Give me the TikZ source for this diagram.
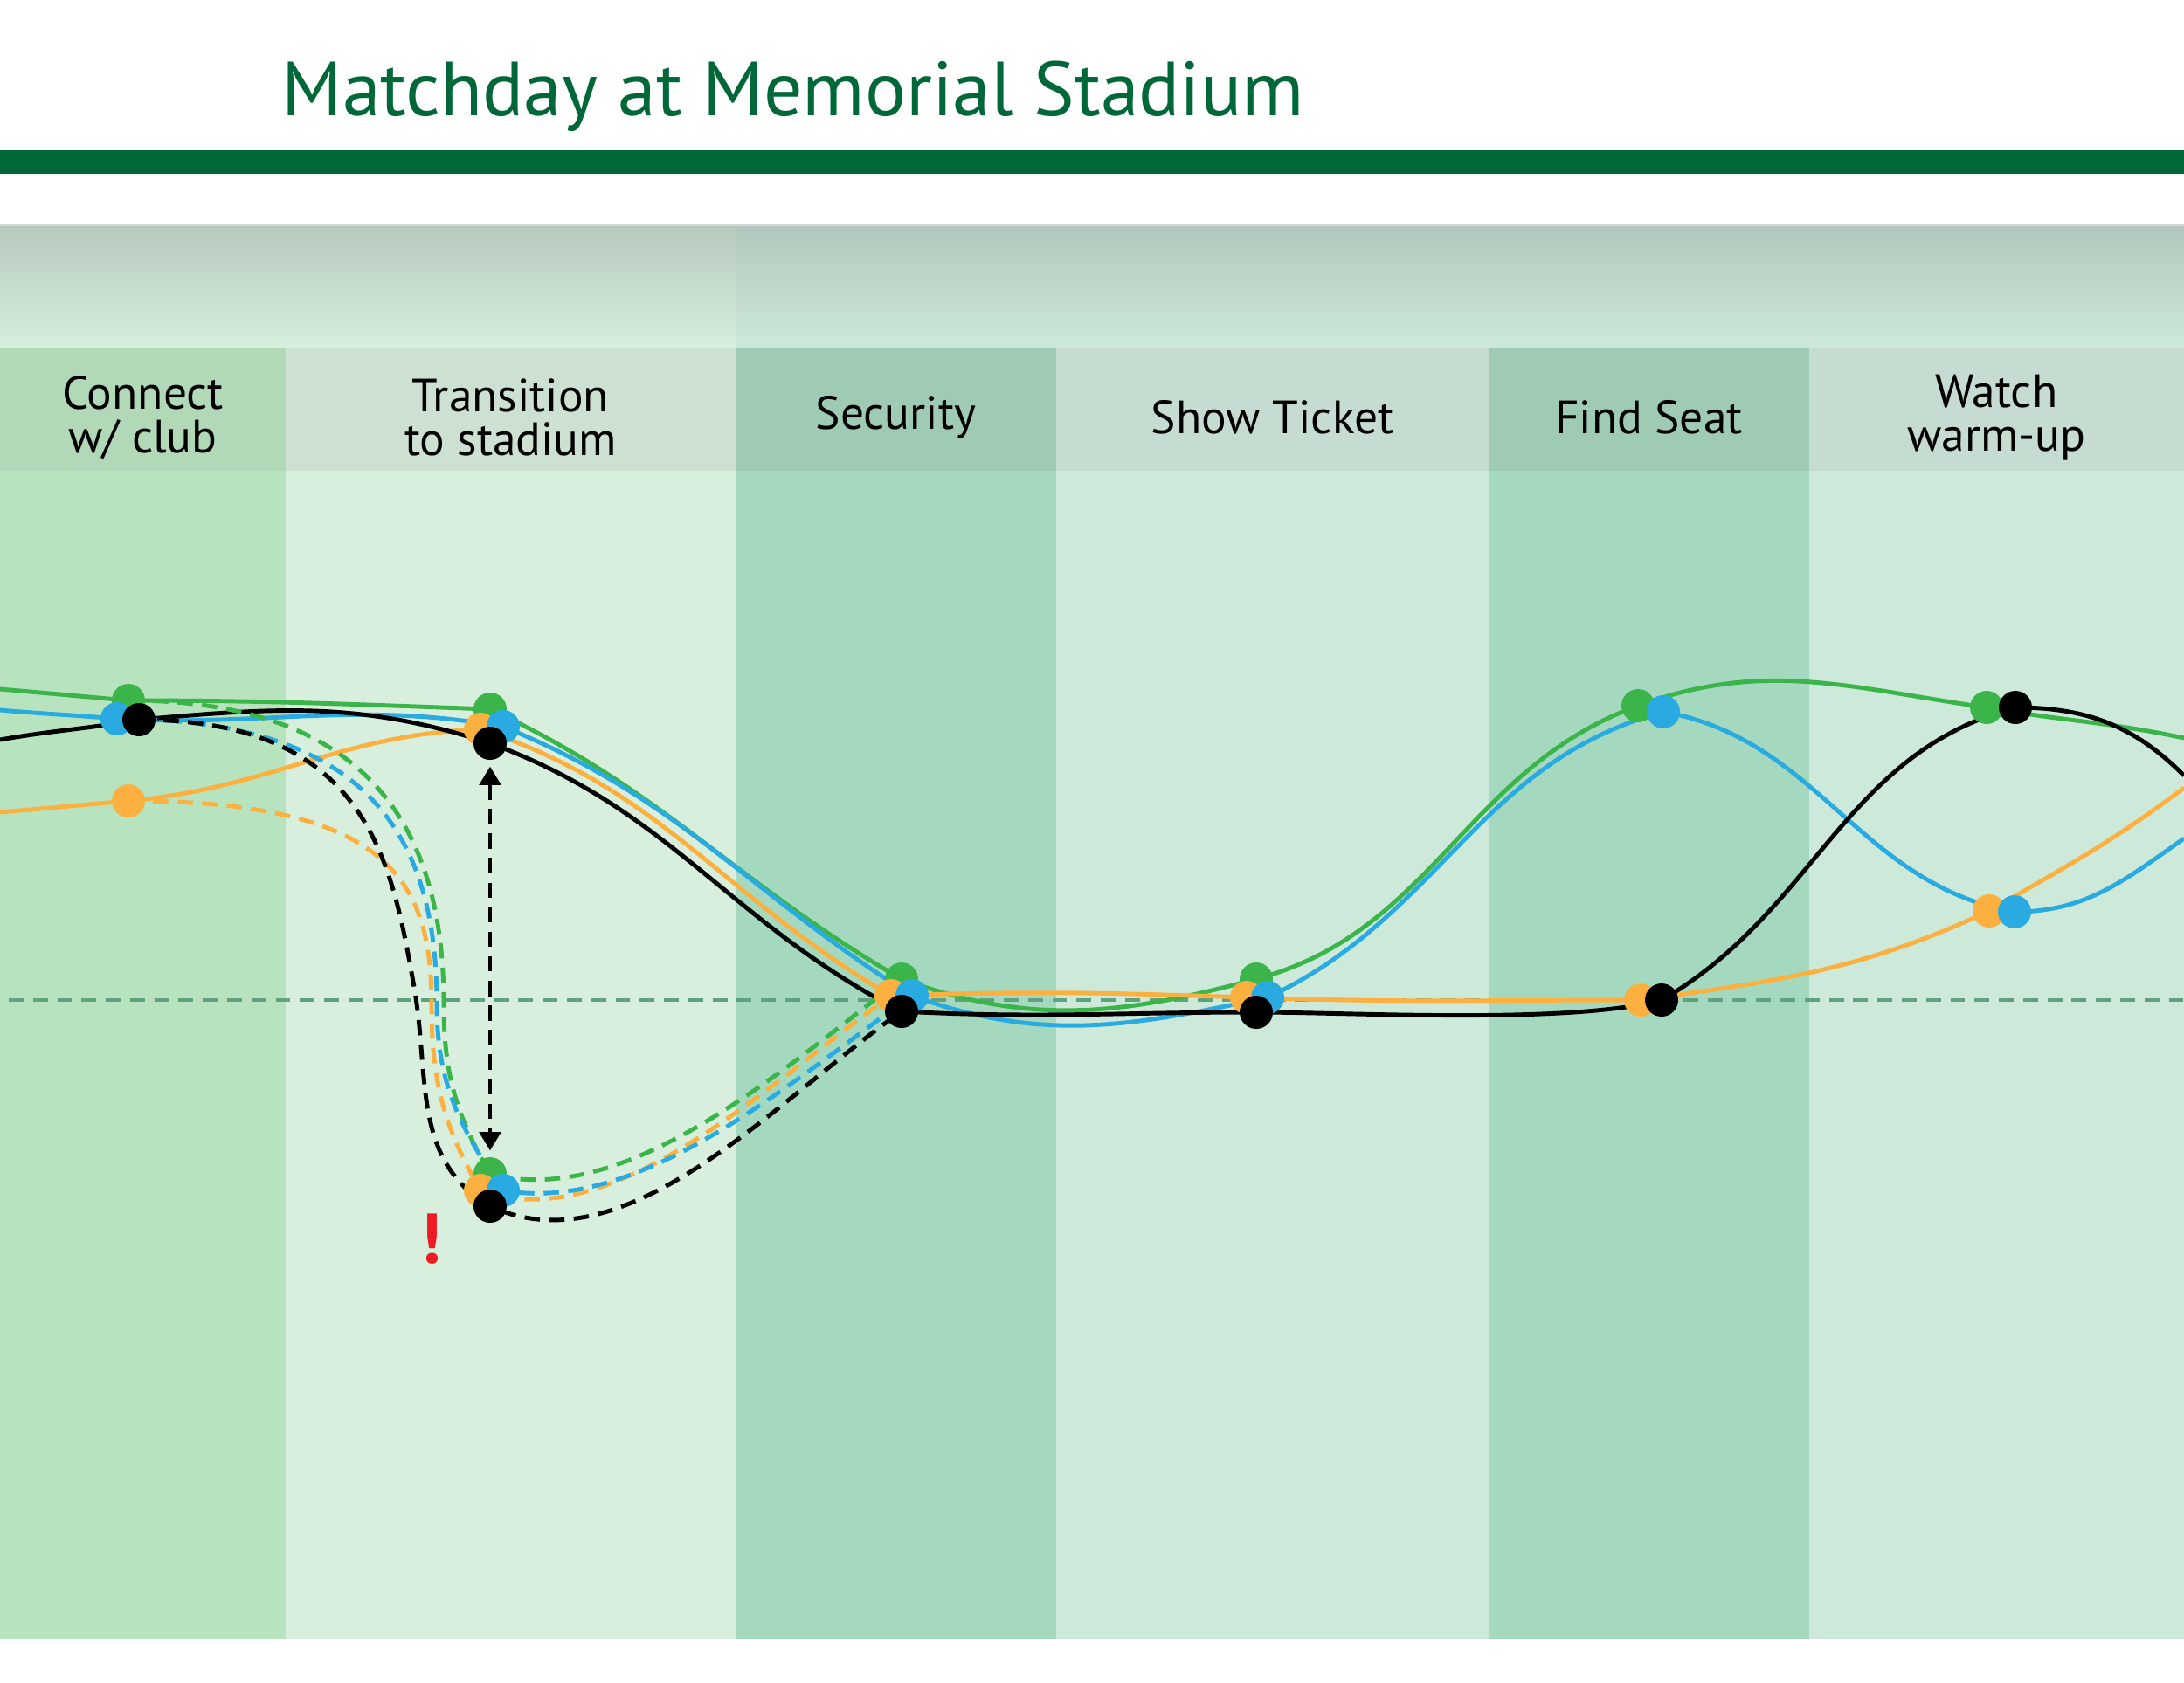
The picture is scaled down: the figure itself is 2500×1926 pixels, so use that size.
\documentclass[tikz,border=0pt]{standalone}
\usepackage{fontspec}
\setmainfont{PT Sans}
\usetikzlibrary{arrows.meta, positioning}
\definecolor{clubgreen}{RGB}{0,104,56}
\definecolor{fangreen}{RGB}{59,181,74}
\definecolor{fanblue}{RGB}{41,171,226}
\definecolor{fanorange}{RGB}{251,176,64}
\definecolor{alertred}{RGB}{237,28,36}
\definecolor{parline}{RGB}{96,162,128}
\definecolor{skyleft}{RGB}{182,202,190}
\definecolor{skyright}{RGB}{179,199,188}
\definecolor{skyrule}{RGB}{212,216,214}
\definecolor{bodyA}{RGB}{183,227,190}
\definecolor{headA}{RGB}{177,217,184}
\definecolor{bodyB}{RGB}{215,239,220}
\definecolor{headB}{RGB}{205,225,211}
\definecolor{bodyC}{RGB}{164,217,191}
\definecolor{headC}{RGB}{159,203,181}
\definecolor{bodyD}{RGB}{205,233,218}
\definecolor{headD}{RGB}{198,220,209}
\pgfdeclarelayer{panel}
\pgfdeclarelayer{track}
\pgfsetlayers{panel,track,main}

\begin{document}
\begin{tikzpicture}[x=0.01cm, y=0.01cm,
    dot/.style={circle, fill=#1, inner sep=0pt, minimum size=10.8pt},
    trail/.style={draw=#1, line width=1.4pt},
    detour/.style={draw=#1, line width=1.4pt, dash pattern=on 5pt off 3pt},
    stephead/.style={align=center, font=\fontsize{15.2}{14.2}\selectfont}]
  \useasboundingbox (0,0) rectangle (2500,-1926);
  % Title
  \node[anchor=base west, inner sep=0pt, text=clubgreen,
        font=\fontsize{25}{30}\selectfont] (title) at (322,-132)
        {Matchday at Memorial Stadium};
  \fill[clubgreen] (0,-172) rectangle (2500,-199);
  % Steps
  \begin{pgfonlayer}{panel}
    \shade[top color=skyleft, bottom color=bodyB] (0,-258) rectangle (842,-399);
    \shade[top color=skyright, bottom color=bodyD] (842,-258) rectangle (2500,-399);
    \draw[line width=0.6pt, skyrule] (0,-258) -- (2500,-258);
    \foreach \xa/\xb/\tone/\label [count=\i] in {
        0/327/A/{Connect\\w/ club},
        327/842/B/{Transition\\to stadium},
        842/1209/C/{Security},
        1209/1704/D/{Show Ticket},
        1704/2071/C/{Find Seat},
        2071/2500/D/{Watch\\warm-up}} {
      \fill[body\tone] (\xa,-399) rectangle (\xb,-1877);
      \fill[head\tone] (\xa,-399) rectangle (\xb,-539);
      \node[stephead] (s\i) at ({(\xa+\xb)/2},-478) {\label};
    }
  \end{pgfonlayer}
  % Fans
  \node[dot=fangreen] (g1) at (147,-802) {};
  \node[dot=fangreen] (g2) at (561,-812) {};
  \node[dot=fangreen] (g2b) at (561,-1344) {};
  \node[dot=fangreen] (g3) at (1032,-1121) {};
  \node[dot=fangreen] (g4) at (1438,-1121) {};
  \node[dot=fangreen] (g5) at (1875,-808) {};
  \node[dot=fangreen] (g6) at (2274,-810) {};
  \node[dot=fanorange] (o1) at (147,-917) {};
  \node[dot=fanorange] (o2) at (550,-835) {};
  \node[dot=fanorange] (o2b) at (550,-1363) {};
  \node[dot=fanorange] (o3) at (1020,-1140) {};
  \node[dot=fanorange] (o4) at (1427,-1142) {};
  \node[dot=fanorange] (o5) at (1878,-1145) {};
  \node[dot=fanorange] (o6) at (2277,-1043) {};
  \node[dot=fanblue] (b1) at (134,-823) {};
  \node[dot=fanblue] (b2) at (576,-832) {};
  \node[dot=fanblue] (b2b) at (576,-1363) {};
  \node[dot=fanblue] (b3) at (1044,-1140) {};
  \node[dot=fanblue] (b4) at (1451,-1142) {};
  \node[dot=fanblue] (b5) at (1904,-815) {};
  \node[dot=fanblue] (b6) at (2306,-1044) {};
  \node[dot=black] (k1) at (159,-824) {};
  \node[dot=black] (k2) at (561,-851) {};
  \node[dot=black] (k2b) at (561,-1381) {};
  \node[dot=black] (k3) at (1032,-1158) {};
  \node[dot=black] (k4) at (1438,-1159) {};
  \node[dot=black] (k5) at (1902,-1145) {};
  \node[dot=black] (k6) at (2307,-810) {};
  \coordinate (gL) at (0,-789);  \coordinate (gR) at (2500,-845);
  \coordinate (oL) at (0,-930);  \coordinate (oR) at (2500,-902);
  \coordinate (bL) at (0,-813);  \coordinate (bR) at (2500,-960);
  \coordinate (kL) at (0,-847);  \coordinate (kR) at (2500,-888);
  % where the detours drop
  \coordinate (gv) at (508,-1150);
  \coordinate (bv) at (500,-1150);
  \coordinate (ov) at (494,-1150);
  \coordinate (kv) at (474,-1130);
  \node[text=alertred, font=\bfseries\fontsize{23}{23}\selectfont] (warn) at (493,-1419) {!};
  % Journeys
  \begin{pgfonlayer}{track}
    \draw[parline, line width=1.3pt, dash pattern=on 4.8pt off 3.1pt] (10,-1145) -- (2500,-1145);
    \draw[trail=fangreen] (gL) to[out=-5,in=175] (g1.center) to[out=0,in=178] (g2.center)
      to[out=-25,in=150] (g3.center) to[out=-20,in=195] (g4.center)
      to[out=15,in=200] (g5.center) to[out=20,in=172] (g6.center) to[out=-10,in=168] (gR);
    \draw[trail=fanorange] (oL) to[out=5,in=185] (o1.center) to[out=5,in=182] (o2.center)
      to[out=-18,in=150] (o3.center) to[out=2,in=178] (o4.center)
      to[out=-2,in=180] (o5.center) to[out=8,in=205] (o6.center) to[out=30,in=217] (oR);
    \draw[trail=fanblue] (bL) to[out=-5,in=175] (b1.center) to[out=-3,in=170] (b2.center)
      to[out=-22,in=148] (b3.center) to[out=-20,in=192] (b4.center)
      to[out=25,in=195] (b5.center) to[out=-10,in=170] (b6.center) to[out=0,in=215] (bR);
    \draw[trail=black] (kL) to[out=10,in=190] (k1.center) to[out=5,in=162] (k2.center)
      to[out=-20,in=153] (k3.center) to[out=-3,in=180] (k4.center)
      to[out=0,in=195,looseness=0.6] (k5.center) to[out=30,in=195] (k6.center) to[out=0,in=135] (kR);
    % detour through the gates
    \draw[detour=fangreen] (g1.center) to[out=0,in=90,out distance=2.8cm,in distance=1.96cm] (gv)
      to[out=-90,in=120] (g2b.center) to[out=-15,in=217,looseness=0.8] (g3.center);
    \draw[detour=fanorange] (o1.center) to[out=0,in=90,out distance=3.0cm,in distance=1.4cm] (ov)
      to[out=-90,in=120] (o2b.center) to[out=-20,in=215,looseness=0.8] (o3.center);
    \draw[detour=fanblue] (b1.center) to[out=0,in=90,out distance=2.9cm,in distance=1.9cm] (bv)
      to[out=-90,in=125] (b2b.center) to[out=-10,in=215,looseness=0.8] (b3.center);
    \draw[detour=black] (k1.center) to[out=0,in=100,out distance=2.6cm,in distance=1.5cm] (kv)
      to[out=-80,in=150] (k2b.center) to[out=-25,in=215,looseness=0.85] (k3.center);
    \draw[line width=1pt, dash pattern=on 5pt off 3pt,
          {Triangle[length=6pt,width=7pt]}-{Triangle[length=6pt,width=7pt]},
          shorten <=2pt, shorten >=2pt] (k2) -- (g2b);
  \end{pgfonlayer}
\end{tikzpicture}
\end{document}
